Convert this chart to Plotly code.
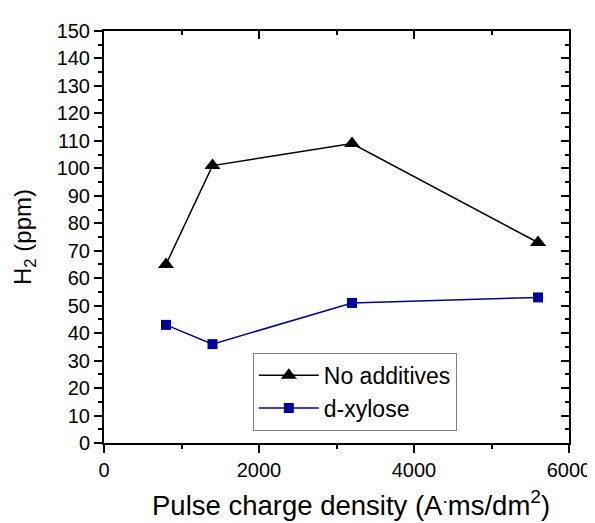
import plotly.graph_objects as go

x_vals = [800, 1400, 3200, 5600]
no_additives = [65, 101, 109, 73]
d_xylose = [43, 36, 51, 53]
series_names = ["No additives", "d-xylose"]
x_title = "Pulse charge density (A<sup>.</sup>ms/dm<sup>2</sup>)"
y_title = "H<sub>2</sub> (ppm)"

FONT = "Liberation Sans, Arial, sans-serif"

fig = go.Figure()
fig.add_trace(go.Scatter(x=x_vals, y=no_additives, name=series_names[0], mode="lines+markers",
                         line=dict(color="black", width=1.5),
                         marker=dict(symbol="triangle-up", size=14, color="black")))
fig.add_trace(go.Scatter(x=x_vals, y=d_xylose, name=series_names[1], mode="lines+markers",
                         line=dict(color="#0000A0", width=1.5),
                         marker=dict(symbol="square", size=10, color="#0000A0")))
# invisible trace to realise mirrored top/right axes
fig.add_trace(go.Scatter(x=[None], y=[None], xaxis="x2", yaxis="y2", showlegend=False, hoverinfo="skip"))

axis_common = dict(showgrid=False, zeroline=False, showline=True, linecolor="black", linewidth=2,
                   tickcolor="black", tickwidth=2)

fig.update_layout(
    width=595, height=523,
    margin=dict(l=96, r=34, t=19, b=88),
    paper_bgcolor="white", plot_bgcolor="white",
    font=dict(family=FONT, color="black"),
    xaxis=dict(range=[0, 6000], dtick=2000, ticks="outside", ticklen=8,
               minor=dict(dtick=1000, ticks="outside", ticklen=4, tickcolor="black", tickwidth=2),
               tickfont=dict(size=20, family=FONT),
               **axis_common),
    yaxis=dict(range=[0, 150], dtick=10, ticks="outside", ticklen=8,
               minor=dict(dtick=5, ticks="outside", ticklen=4, tickcolor="black", tickwidth=2),
               tickfont=dict(size=20, family=FONT),
               title=dict(text=y_title, font=dict(size=24, family=FONT), standoff=18),
               **axis_common),
    xaxis2=dict(range=[0, 6000], dtick=2000, overlaying="x", side="top", anchor="y2",
                ticks="inside", ticklen=8, showticklabels=False,
                minor=dict(dtick=1000, ticks="inside", ticklen=4, tickcolor="black", tickwidth=2),
                **axis_common),
    yaxis2=dict(range=[0, 150], dtick=10, overlaying="y", side="right", anchor="x2",
                ticks="inside", ticklen=8, showticklabels=False,
                minor=dict(dtick=5, ticks="inside", ticklen=4, tickcolor="black", tickwidth=2),
                **axis_common),
    legend=dict(x=0.320, y=0.219, xanchor="left", yanchor="top",
                bordercolor="#808080", borderwidth=1, bgcolor="white",
                font=dict(size=23, family=FONT), tracegroupgap=0, itemwidth=60),
    showlegend=True,
)

fig.add_annotation(text=x_title, xref="paper", yref="paper", x=0.531, y=-0.147,
                   xanchor="center", yanchor="middle", showarrow=False,
                   font=dict(size=27.5, family=FONT, color="black"))

fig.write_html("out.html")
